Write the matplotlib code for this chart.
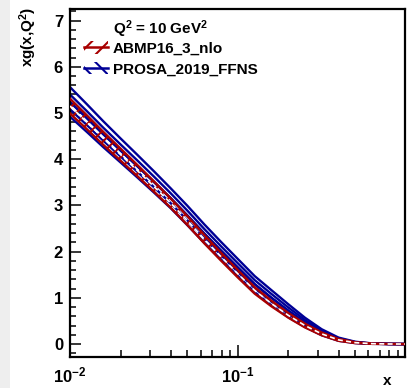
import math
import matplotlib
matplotlib.use("Agg")
import matplotlib.pyplot as plt
import numpy as np
from matplotlib.patches import Patch, Rectangle
from matplotlib.lines import Line2D
from matplotlib.ticker import (LogLocator, MultipleLocator, FixedLocator,
                               NullFormatter, FuncFormatter)

plt.rcParams["font.family"] = ["Liberation Sans", "DejaVu Sans"]
plt.rcParams["font.weight"] = "bold"
plt.rcParams["mathtext.fontset"] = "custom"
plt.rcParams["mathtext.rm"] = "Liberation Sans:bold"
plt.rcParams["mathtext.bf"] = "Liberation Sans:bold"
plt.rcParams["mathtext.it"] = "Liberation Sans:bold"
plt.rcParams["hatch.linewidth"] = 1.5

# x grid (Bjorken x) and gluon momentum density xg(x, Q^2) at Q^2 = 10 GeV^2
x = [0.01, 0.0126, 0.0158, 0.02, 0.0251, 0.0316, 0.0398, 0.0501, 0.0631, 0.0794,
     0.1, 0.126, 0.158, 0.2, 0.251, 0.316, 0.398, 0.501, 0.631, 0.794, 1.0]

abmp_central = [5.15, 4.80, 4.45, 4.10, 3.76, 3.41, 3.05, 2.67, 2.27, 1.89,
                1.52, 1.16, 0.88, 0.62, 0.40, 0.22, 0.09, 0.03, 0.008, 0.002, 0.0]
abmp_upper = [5.31, 4.95, 4.59, 4.23, 3.88, 3.52, 3.15, 2.765, 2.36, 1.975,
              1.60, 1.23, 0.94, 0.67, 0.44, 0.25, 0.11, 0.04, 0.012, 0.003, 0.0]
abmp_lower = [4.99, 4.65, 4.31, 3.97, 3.64, 3.30, 2.95, 2.575, 2.18, 1.805,
              1.44, 1.09, 0.82, 0.57, 0.36, 0.19, 0.07, 0.02, 0.004, 0.001, 0.0]

prosa_central = [5.24, 4.89, 4.54, 4.19, 3.855, 3.51, 3.155, 2.78, 2.39, 2.02,
                 1.655, 1.295, 1.005, 0.72, 0.47, 0.255, 0.105, 0.035, 0.009, 0.002, 0.0]
prosa_upper = [5.56, 5.19, 4.82, 4.45, 4.10, 3.74, 3.37, 2.99, 2.59, 2.21,
               1.84, 1.47, 1.17, 0.86, 0.57, 0.32, 0.14, 0.05, 0.014, 0.003, 0.0]
prosa_lower = [4.92, 4.59, 4.26, 3.93, 3.61, 3.28, 2.94, 2.57, 2.19, 1.83,
               1.47, 1.12, 0.84, 0.58, 0.37, 0.19, 0.07, 0.02, 0.004, 0.001, 0.0]

labels = ["ABMP16_3_nlo", "PROSA_2019_FFNS"]
title = r"Q$^{2}$ = 10 GeV$^{2}$"
y_ticks = [0, 1, 2, 3, 4, 5, 6, 7]

red = "#a80000"
blue = "#000096"
W, H = 407, 388

fig = plt.figure(figsize=(W / 100, H / 100), dpi=100)
fig.patch.set_facecolor("white")
fig.add_artist(Rectangle((0, 0), 10 / W, 1, transform=fig.transFigure,
                         facecolor="#eeeeee", edgecolor="none", zorder=-10))
ax = fig.add_axes([70 / W, 1 - 357 / H, 335 / W, 348 / H])

# PROSA band: hatch running along the band, drawn as parallel strokes
p_lo = np.array(prosa_lower)
p_hi = np.array(prosa_upper)
for f in np.linspace(0, 1, 5):
    ax.plot(x, p_lo + f * (p_hi - p_lo), color=blue, lw=1.7, zorder=2)
ax.plot(x, prosa_central, color=blue, lw=1.7, zorder=2)

# ABMP band: cross-hatched fill, edges and dashed central value
ax.fill_between(x, abmp_lower, abmp_upper, facecolor="none", edgecolor=red,
                hatch="///", linewidth=0, zorder=4)
ax.plot(x, abmp_upper, color=red, lw=1.7, zorder=5)
ax.plot(x, abmp_lower, color=red, lw=1.7, zorder=5)
ax.plot(x, abmp_central, color="white", lw=1.2, ls=(0, (3, 2)), zorder=6)

ax.set_xscale("log")
ax.set_xlim(0.01, 0.99)
ax.set_ylim(-0.28, 7.25)

for s in ax.spines.values():
    s.set_linewidth(1.6)

ax.yaxis.set_major_locator(FixedLocator(y_ticks))
ax.yaxis.set_minor_locator(MultipleLocator(0.2))
ax.set_yticklabels([str(v) for v in y_ticks])
ax.xaxis.set_major_locator(LogLocator(base=10, numticks=5))
ax.xaxis.set_minor_locator(LogLocator(base=10, subs=range(2, 10), numticks=20))
ax.xaxis.set_minor_formatter(NullFormatter())
ax.xaxis.set_major_formatter(
    FuncFormatter(lambda v, p: r"$\mathbf{10^{%d}}$" % round(math.log10(v))))

ax.tick_params(which="both", direction="in", top=False, right=False, labelsize=12)
ax.tick_params(axis="y", which="major", length=8, width=1.1, pad=5)
ax.tick_params(axis="y", which="minor", length=4, width=1.1)
ax.tick_params(axis="x", which="major", length=9, width=1.1, pad=6)
ax.tick_params(axis="x", which="minor", length=5, width=1.1)
for lab in ax.get_yticklabels() + ax.get_xticklabels():
    lab.set_fontweight("bold")

# axis titles, ROOT-style at the axis ends
fig.text(28 / W, 1 - 7 / H, r"xg(x,Q$^{2}$)", rotation=90, fontsize=11,
         fontweight="bold", ha="center", va="top")
fig.text(387 / W, 1 - 381 / H, "x", fontsize=11, fontweight="bold",
         ha="center", va="center")

# legend header and entries
fig.text(113 / W, 1 - 29 / H, title, fontsize=11, fontweight="bold",
         ha="left", va="center")
handles = [
    (Patch(facecolor="none", edgecolor=red, hatch="//", linewidth=0),
     Line2D([], [], color=red, lw=1.8)),
    (Patch(facecolor="none", edgecolor=blue, hatch="\\\\", linewidth=0),
     Line2D([], [], color=blue, lw=1.8)),
]
leg = fig.legend(handles, labels, loc="upper left",
                 bbox_to_anchor=(84 / W, 1 - 41 / H), frameon=False, fontsize=11,
                 handlelength=1.6, handleheight=0.9, handletextpad=0.3,
                 labelspacing=0.4, borderaxespad=0, borderpad=0)
for t in leg.get_texts():
    t.set_fontweight("bold")

fig.savefig("out.png", dpi=100, facecolor=fig.get_facecolor())
